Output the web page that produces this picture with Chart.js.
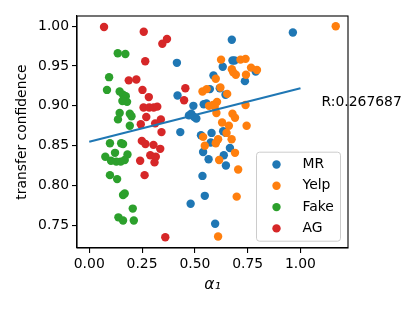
<!DOCTYPE html>
<html>
<head>
<meta charset="utf-8">
<script src="https://cdn.jsdelivr.net/npm/chart.js@4"></script>
<style>
  html, body { margin: 0; padding: 0; background: #fff; }
</style>
</head>
<body>
<canvas id="scatterChart" width="415" height="312"></canvas>
<script>
// values
const mrAlpha = [0.964, 0.675, 0.678, 0.688, 0.415, 0.632, 0.788, 0.588, 0.737, 0.571, 0.618, 0.418, 0.645, 0.542, 0.555, 0.493, 0.483, 0.472, 0.507, 0.497, 0.431, 0.529, 0.579, 0.634, 0.647, 0.575, 0.539, 0.565, 0.666, 0.637, 0.647, 0.536, 0.480, 0.547, 0.596];
const mrConf = [0.992, 0.983, 0.957, 0.957, 0.954, 0.949, 0.943, 0.938, 0.931, 0.921, 0.922, 0.913, 0.914, 0.902, 0.903, 0.900, 0.890, 0.888, 0.884, 0.886, 0.867, 0.863, 0.866, 0.868, 0.866, 0.854, 0.842, 0.833, 0.847, 0.838, 0.825, 0.812, 0.777, 0.787, 0.752];

const yelpAlpha = [1.167, 0.624, 0.716, 0.740, 0.766, 0.794, 0.675, 0.682, 0.694, 0.742, 0.599, 0.536, 0.556, 0.621, 0.653, 0.605, 0.586, 0.594, 0.567, 0.740, 0.602, 0.678, 0.690, 0.745, 0.629, 0.661, 0.650, 0.539, 0.547, 0.599, 0.610, 0.674, 0.690, 0.615, 0.705, 0.698, 0.610];
const yelpConf = [1.000, 0.958, 0.958, 0.959, 0.948, 0.945, 0.946, 0.942, 0.939, 0.939, 0.934, 0.918, 0.921, 0.923, 0.915, 0.905, 0.901, 0.899, 0.900, 0.901, 0.891, 0.890, 0.885, 0.875, 0.879, 0.875, 0.866, 0.861, 0.850, 0.853, 0.858, 0.858, 0.841, 0.832, 0.820, 0.786, 0.736];

const fakeAlpha = [0.135, 0.171, 0.094, 0.084, 0.144, 0.160, 0.173, 0.166, 0.179, 0.157, 0.144, 0.136, 0.192, 0.200, 0.192, 0.098, 0.151, 0.160, 0.122, 0.181, 0.076, 0.103, 0.128, 0.149, 0.168, 0.098, 0.132, 0.160, 0.168, 0.206, 0.138, 0.160, 0.211];
const fakeConf = [0.966, 0.965, 0.936, 0.920, 0.918, 0.914, 0.912, 0.908, 0.905, 0.906, 0.891, 0.883, 0.890, 0.887, 0.875, 0.853, 0.853, 0.852, 0.841, 0.839, 0.836, 0.831, 0.830, 0.830, 0.832, 0.813, 0.808, 0.788, 0.790, 0.771, 0.760, 0.756, 0.756];

const agAlpha = [0.070, 0.258, 0.346, 0.368, 0.265, 0.187, 0.223, 0.455, 0.252, 0.282, 0.449, 0.257, 0.284, 0.305, 0.322, 0.270, 0.339, 0.244, 0.312, 0.342, 0.249, 0.266, 0.304, 0.336, 0.289, 0.315, 0.241, 0.309, 0.262, 0.360];
const agConf = [0.999, 0.993, 0.978, 0.984, 0.956, 0.932, 0.933, 0.922, 0.920, 0.911, 0.907, 0.898, 0.898, 0.898, 0.899, 0.886, 0.883, 0.877, 0.878, 0.867, 0.856, 0.852, 0.851, 0.846, 0.838, 0.836, 0.831, 0.829, 0.813, 0.735];

// fit line end points
const fitAlpha = [0, 1];
const fitConf = [0.855, 0.922];

const xTicks = [0, 0.25, 0.5, 0.75, 1.0];
const yTicks = [0.75, 0.80, 0.85, 0.90, 0.95, 1.00];

const rLabel = 'R:0.267687';
const rAt = [1.1, 0.90];

const FONT = 'DejaVu Sans';

function toPoints(xs, ys) {
  return xs.map((x, i) => ({ x: x, y: ys[i] }));
}

function scatterSet(label, xs, ys, color, order) {
  return {
    type: 'scatter',
    label: label,
    data: toPoints(xs, ys),
    backgroundColor: color,
    borderWidth: 0,
    pointRadius: 4.2,
    pointHoverRadius: 4.2,
    order: order
  };
}

// frame, R annotation and matplotlib-like legend
const extrasPlugin = {
  id: 'extras',
  afterDraw(chart) {
    const { ctx, chartArea: a, scales } = chart;
    ctx.save();
    ctx.strokeStyle = '#000';
    ctx.lineWidth = 1.1;
    ctx.strokeRect(a.left, a.top, a.right - a.left, a.bottom - a.top);

    ctx.font = '13.9px "' + FONT + '"';
    ctx.fillStyle = '#000';
    ctx.textBaseline = 'alphabetic';
    ctx.textAlign = 'left';
    ctx.fillText(rLabel, scales.x.getPixelForValue(rAt[0]), scales.y.getPixelForValue(rAt[1]));

    const items = chart.data.datasets.filter(d => d.type === 'scatter');
    const w = 84, h = 89;
    const bx = a.right - 7.5 - w;
    const by = a.bottom - 6.8 - h;
    ctx.beginPath();
    ctx.roundRect(bx, by, w, h, 3);
    ctx.fillStyle = 'rgba(255,255,255,0.8)';
    ctx.fill();
    ctx.strokeStyle = '#cccccc';
    ctx.lineWidth = 1;
    ctx.stroke();

    ctx.textBaseline = 'middle';
    items.forEach((d, i) => {
      const y = by + 12.3 + i * 21.3;
      ctx.beginPath();
      ctx.arc(bx + 20, y, 4.2, 0, Math.PI * 2);
      ctx.fillStyle = d.backgroundColor;
      ctx.fill();
      ctx.fillStyle = '#000';
      ctx.fillText(d.label, bx + 46, y);
    });
    ctx.restore();
  }
};

function makeChart() {
  const ctx = document.getElementById('scatterChart').getContext('2d');
  new Chart(ctx, {
    type: 'scatter',
    data: {
      datasets: [
        scatterSet('MR', mrAlpha, mrConf, '#1f77b4', 4),
        scatterSet('Yelp', yelpAlpha, yelpConf, '#ff7f0e', 3),
        scatterSet('Fake', fakeAlpha, fakeConf, '#2ca02c', 2),
        scatterSet('AG', agAlpha, agConf, '#d62728', 1),
        {
          type: 'line',
          label: 'fit',
          data: toPoints(fitAlpha, fitConf),
          borderColor: '#1f77b4',
          borderWidth: 2.1,
          pointRadius: 0,
          fill: false,
          order: 0
        }
      ]
    },
    options: {
      responsive: false,
      animation: false,
      events: [],
      layout: { padding: { top: 16, right: 67, left: 0, bottom: 0 } },
      plugins: { legend: { display: false }, tooltip: { enabled: false } },
      scales: {
        x: {
          type: 'linear',
          min: -0.058,
          max: 1.225,
          afterFit: s => { s.height = 64; },
          afterBuildTicks: s => { s.ticks = xTicks.map(v => ({ value: v })); },
          grid: { drawOnChartArea: false, drawTicks: true, tickLength: 5, color: '#000', lineWidth: 1.1 },
          border: { display: true, color: '#000', width: 1.1 },
          ticks: {
            color: '#000',
            padding: 3,
            maxRotation: 0,
            font: { family: FONT, size: 13.9 },
            callback: v => v.toFixed(2)
          },
          title: {
            display: true,
            text: 'α₁',
            color: '#000',
            font: { family: FONT, size: 15.5, style: 'italic' },
            padding: { top: 0, bottom: 18 }
          }
        },
        y: {
          type: 'linear',
          min: 0.7215,
          max: 1.0128,
          afterFit: s => { s.width = 77; },
          afterBuildTicks: s => { s.ticks = yTicks.map(v => ({ value: v })); },
          grid: { drawOnChartArea: false, drawTicks: true, tickLength: 5, color: '#000', lineWidth: 1.1 },
          border: { display: true, color: '#000', width: 1.1 },
          ticks: {
            color: '#000',
            padding: 3,
            font: { family: FONT, size: 13.9 },
            callback: v => v.toFixed(2)
          },
          title: {
            display: true,
            text: 'transfer confidence',
            color: '#000',
            font: { family: FONT, size: 13.9 },
            padding: { top: 14.5, bottom: 0 }
          }
        }
      }
    },
    plugins: [extrasPlugin]
  });
}

document.addEventListener('DOMContentLoaded', () => makeChart());
</script>
</body>
</html>
